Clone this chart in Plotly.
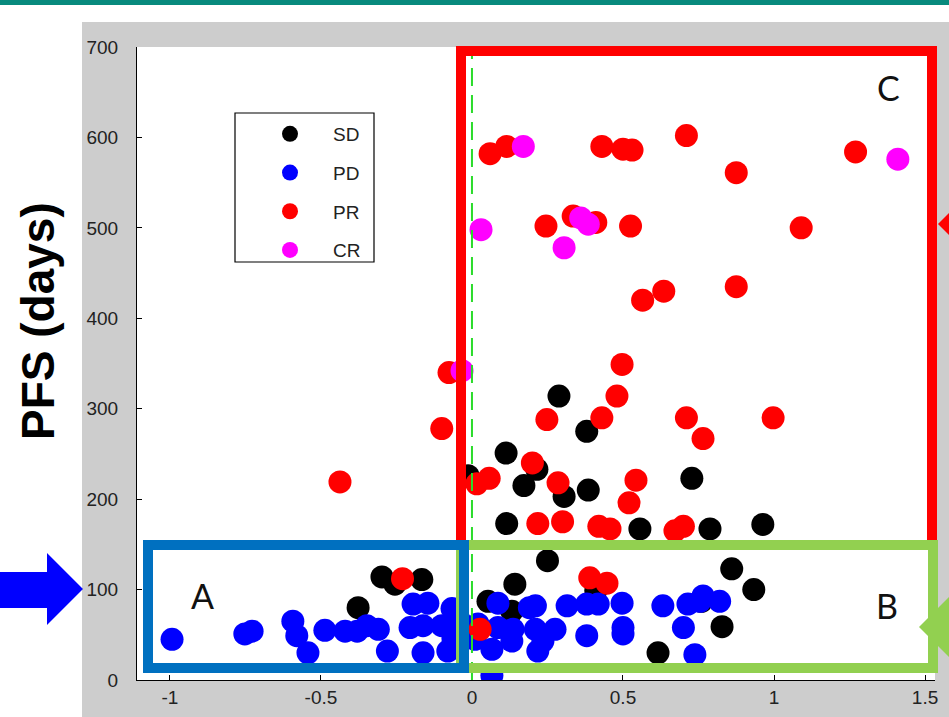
import plotly.graph_objects as go

# ---- data (response change vs PFS days) ----
sd_x = [-0.377, -0.298, -0.255, -0.166, 0.25, 0.142, 0.053, 0.132, 0.41, 0.616, 0.86, 0.933, 0.828, 0.76,
        0.288, 0.38, 0.113, 0.215, 0.172, -0.013, 0.305, 0.385, 0.728, 0.115, 0.556, 0.788, 0.963]
sd_y = [80, 114, 106, 111, 132, 106, 87, 76, 99, 30, 123, 100, 59, 87,
        314, 275, 251, 233, 215, 226, 203, 210, 223, 173, 167, 167, 172]

pd_x = [-0.993, -0.752, -0.728, -0.593, -0.58, -0.543, -0.487, -0.42, -0.38, -0.348, -0.31, -0.195, -0.146,
        -0.205, -0.162, -0.28, -0.162, -0.1, -0.066, -0.08, -0.063, -0.04,
        0.086, 0.21, 0.19, 0.315, 0.38, 0.418, 0.497, 0.632, 0.715, 0.755, 0.01, 0.066, 0.086, 0.136, 0.132,
        0.21, 0.218, 0.235, 0.275, 0.38, 0.5, 0.5, 0.70, 0.738, 0.066, 0.82, 0.765, 0.02]
pd_y = [45, 51, 54, 65, 49, 30, 55, 54, 54, 60, 56, 84, 85,
        58, 60, 32, 30, 60, 79, 32, 46, 65,
        85, 82, 80, 82, 84, 84, 85, 82, 84, 87, 45, 34, 58, 56, 43,
        56, 32, 43, 56, 49, 58, 51, 58, 28, 5, 87, 93, 62]

pr_x = [0.06, 0.115, 0.43, 0.50, 0.53, 0.71, 0.875, 1.27, 0.245, 0.335, 0.41, 0.525, 1.09, 0.565, 0.635, 0.875,
        -0.437, -0.076, -0.10, 0.497, 0.48, 0.248, 0.43, 0.71, 0.765, 0.997, 0.20, 0.057, 0.016, 0.285, 0.543,
        0.52, 0.218, 0.30, 0.42, 0.457, 0.672, 0.70, -0.23, 0.39, 0.447, 0.027]
pr_y = [582, 590, 590, 587, 586, 602, 561, 584, 502, 513, 506, 502, 500, 420, 430, 435,
        219, 340, 278, 349, 314, 288, 290, 290, 267, 290, 240, 223, 217, 218, 221,
        196, 173, 175, 170, 167, 165, 170, 112, 113, 107, 56]

cr_x = [0.17, 1.41, 0.03, 0.36, 0.385, 0.305, -0.033]
cr_y = [590, 576, 498, 511, 504, 478, 342]

series = [("SD", sd_x, sd_y, "#000000"),
          ("PD", pd_x, pd_y, "#0000ff"),
          ("PR", pr_x, pr_y, "#ff0000"),
          ("CR", cr_x, cr_y, "#ff00ff")]

x_ticks = [-1, -0.5, 0, 0.5, 1, 1.5]
x_tick_text = ["-1", "-0.5", "0", "0.5", "1", "1.5"]
y_ticks = [0, 100, 200, 300, 400, 500, 600, 700]

W, H = 949, 717
L, R, T, B = 137, 935, 47, 680


def px(xp):
    return (xp - L) / (R - L)


def py(yp):
    return (B - yp) / (B - T)


fig = go.Figure()
for name, xs, ys, col in series:
    fig.add_trace(go.Scatter(
        x=xs, y=ys, mode="markers", name=name, legendgroup=name,
        marker=dict(size=23, color=col, line=dict(width=0)),
    ))


def path_px(pts, close=True):
    s = ""
    for k, (a, b) in enumerate(pts):
        s += ("M" if k == 0 else "L") + f"{px(a):.5f},{py(b):.5f} "
    return s + ("Z" if close else "")


shapes = []
# figure background (gray window) and teal bar
shapes.append(dict(type="rect", xref="paper", yref="paper", x0=px(82), x1=px(960), y0=py(22), y1=py(730),
                   fillcolor="#cdcdcd", line=dict(width=0), layer="below"))
shapes.append(dict(type="rect", xref="paper", yref="paper", x0=0, x1=1, y0=0, y1=1,
                   fillcolor="#ffffff", line=dict(width=0), layer="below"))
shapes.append(dict(type="rect", xref="paper", yref="paper", x0=px(-10), x1=px(960), y0=py(0), y1=py(5),
                   fillcolor="#088a7d", line=dict(width=0), layer="above"))
# legend frame
shapes.append(dict(type="rect", xref="paper", yref="paper", x0=px(235), x1=px(374), y0=py(113), y1=py(262),
                   line=dict(color="#000000", width=1.2), layer="above"))
# dashed zero line
shapes.append(dict(type="line", xref="x", yref="paper", x0=0, x1=0, y0=0, y1=1,
                   line=dict(color="#2bdc2b", width=2, dash="18px,9px"), layer="above"))
# C box (red, open at the bottom where it meets box B)
shapes.append(dict(type="path", xref="paper", yref="paper",
                   path=path_px([(461, 548), (461, 51), (932, 51), (932, 548)], close=False),
                   line=dict(color="#ff0000", width=10), layer="above"))
# B box (green)
shapes.append(dict(type="rect", xref="paper", yref="paper", x0=px(461), x1=px(933), y0=py(545), y1=py(668),
                   line=dict(color="#92d050", width=10), fillcolor="rgba(0,0,0,0)", layer="above"))
# A box (blue)
shapes.append(dict(type="rect", xref="paper", yref="paper", x0=px(148), x1=px(464), y0=py(545), y1=py(668),
                   line=dict(color="#0070c0", width=10), layer="above"))

# left blue arrow
shapes.append(dict(type="path", xref="paper", yref="paper",
                   path=path_px([(-5, 572), (47, 572), (47, 553), (83, 589), (47, 625), (47, 608), (-5, 608)]),
                   fillcolor="#0000ff", line=dict(width=0), layer="above"))
# right red arrow (partly visible)
shapes.append(dict(type="path", xref="paper", yref="paper",
                   path=path_px([(938, 224), (960, 202), (960, 246)]),
                   fillcolor="#ff0000", line=dict(width=0), layer="above"))
# right green arrow (partly visible)
shapes.append(dict(type="path", xref="paper", yref="paper",
                   path=path_px([(919, 627), (960, 586), (960, 668)]),
                   fillcolor="#92d050", line=dict(width=0), layer="above"))

letter_font = dict(family="Lato, Liberation Sans", size=34, color="#111111")
annotations = [
    dict(text="A", x=px(202), y=py(595), xref="paper", yref="paper", showarrow=False,
         xanchor="center", yanchor="middle", font=letter_font),
    dict(text="B", x=px(887), y=py(605), xref="paper", yref="paper", showarrow=False,
         xanchor="center", yanchor="middle", font=letter_font),
    dict(text="C", x=px(888), y=py(87), xref="paper", yref="paper", showarrow=False,
         xanchor="center", yanchor="middle", font=letter_font),
    dict(text="<b>PFS (days)</b>", x=px(38), y=py(321), xref="paper", yref="paper", showarrow=False,
         xanchor="center", yanchor="middle", textangle=-90,
         font=dict(family="Liberation Sans, Arial", size=46, color="#000000")),
]

tick_font = dict(family="Liberation Sans, Arial", size=19, color="#222222")
fig.update_layout(
    width=W, height=H,
    margin=dict(l=L, r=W - R, t=T, b=H - B, pad=0, autoexpand=False),
    paper_bgcolor="#ffffff", plot_bgcolor="rgba(0,0,0,0)",
    shapes=shapes, annotations=annotations,
    showlegend=True,
    legend=dict(x=px(247), y=py(115), xanchor="left", yanchor="top",
                bgcolor="rgba(0,0,0,0)", borderwidth=0,
                font=dict(family="Liberation Sans, Arial", size=19, color="#222222"),
                tracegroupgap=11, itemwidth=76),
    xaxis=dict(range=[-1.109, 1.533], tickmode="array", tickvals=x_ticks, ticktext=x_tick_text,
               showgrid=False, zeroline=False, showline=True, linecolor="#000000", linewidth=1,
               ticks="inside", ticklen=5, tickcolor="#000000", ticklabelstandoff=0,
               tickfont=tick_font, automargin=False),
    yaxis=dict(range=[0, 700], tickmode="array", tickvals=y_ticks,
               showgrid=False, zeroline=False, showline=True, linecolor="#000000", linewidth=1,
               ticks="inside", ticklen=5, tickcolor="#000000", ticklabelstandoff=14,
               tickfont=tick_font, automargin=False),
)

fig.write_html("out.html")
